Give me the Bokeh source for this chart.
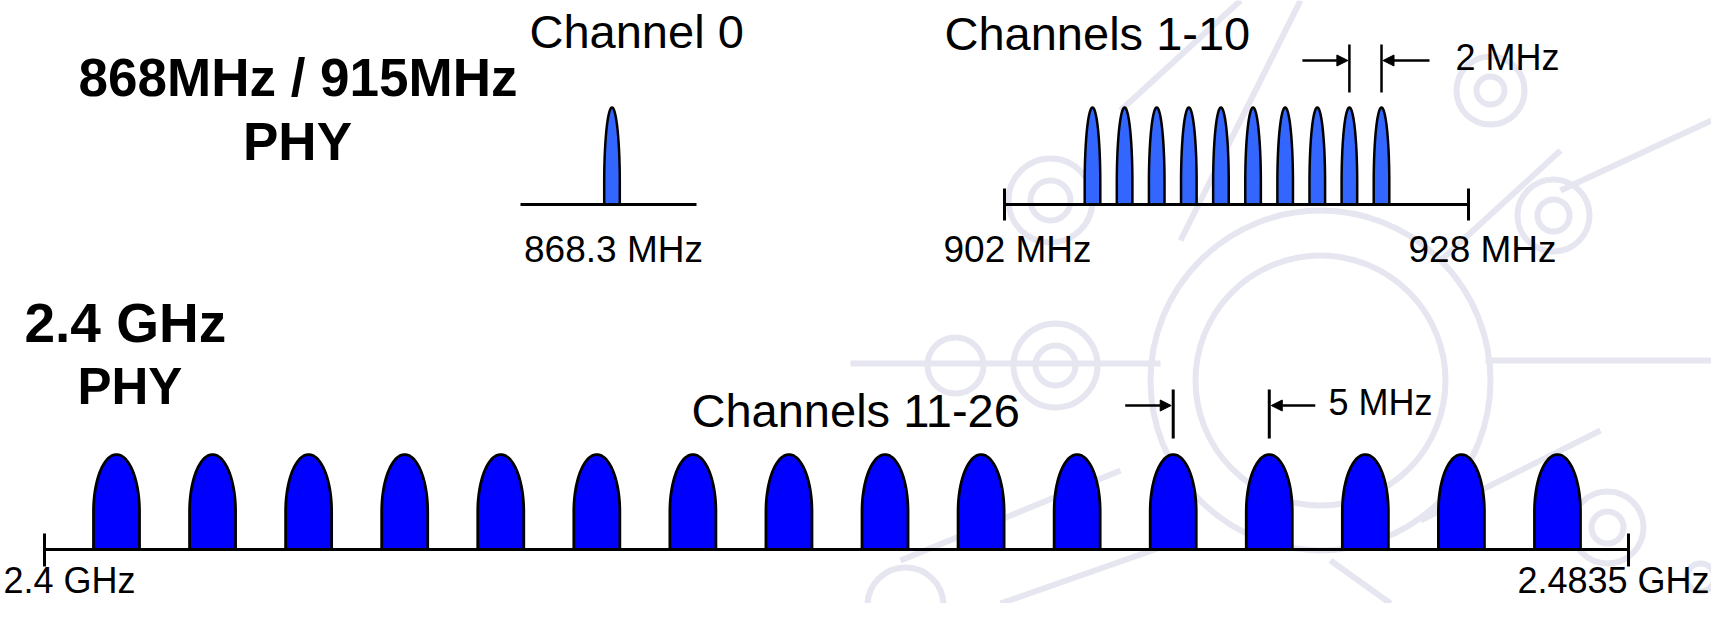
import numpy as np
from bokeh.plotting import figure
from bokeh.models import Range1d, ColumnDataSource, Arrow, NormalHead
from bokeh.core.properties import value
from bokeh.embed import file_html
from bokeh.resources import INLINE

# ---------------- data ----------------
ch0_freq_mhz = [868.3]
ch1_10_freq_mhz = [906, 908, 910, 912, 914, 916, 918, 920, 922, 924]
ch11_26_freq_mhz = [2405, 2410, 2415, 2420, 2425, 2430, 2435, 2440,
                    2445, 2450, 2455, 2460, 2465, 2470, 2475, 2480]
band_titles = ["868MHz / 915MHz", "PHY", "2.4 GHz", "PHY"]
channel_titles = ["Channel 0", "Channels 1-10", "Channels 11-26"]
edge_labels = ["868.3 MHz", "902 MHz", "928 MHz", "2.4 GHz", "2.4835 GHz"]
spacing_labels = ["2 MHz", "5 MHz"]

# ---------------- layout / style ----------------
W, H = 1711, 603
FONT = "Liberation Sans"
BLACK = "#000000"
WM = "#e6e6f1"

p = figure(width=W, height=H, output_backend="svg", toolbar_location=None,
           x_range=Range1d(0, W), y_range=Range1d(H, 0),
           x_axis_location=None, y_axis_location=None, min_border=0,
           background_fill_color="white", border_fill_color="white")
p.grid.visible = False
p.outline_line_color = None

# frequency scales for each band (schematic, px per MHz)
def band_range(f_ref, x_ref, px_per_mhz):
    a = f_ref - x_ref / px_per_mhz
    return Range1d(a, a + W / px_per_mhz)

S868, S915, S24 = 16.0, 16.056, 19.213
p.extra_x_ranges = {
    "b868": band_range(ch0_freq_mhz[0], 611.5, S868),
    "b915": band_range(ch1_10_freq_mhz[0], 1092.0, S915),
    "b24": band_range(ch11_26_freq_mhz[0], 116.0, S24),
}

# ---------------- faint background watermark ----------------
wm_lines_x = [[850, 1160], [1485, 1711], [1300, 1180], [1180, 1000], [1440, 1560],
              [1120, 900], [1420, 1600], [1560, 1711], [1240, 1120], [1330, 1390]]
wm_lines_y = [[363, 363], [360, 360], [0, 240], [540, 603], [260, 150],
              [470, 560], [520, 430], [190, 120], [0, 110], [560, 603]]
p.multi_line(xs=wm_lines_x, ys=wm_lines_y, line_color=WM, line_width=6)
wm_cx = [1320, 1320, 1055, 1055, 955, 1490, 1490, 1553, 1553, 1607, 1607, 1700, 1050, 1050, 905]
wm_cy = [380, 380, 365, 365, 365, 90, 90, 215, 215, 527, 527, 577, 200, 200, 605]
wm_r = [170, 125, 42, 20, 28, 34, 14, 36, 16, 36, 16, 14, 42, 20, 38]
p.circle(x=wm_cx, y=wm_cy, radius=wm_r, radius_units="screen",
         fill_color=None, line_color=WM, line_width=6)

# ---------------- pulses ----------------
def pulse(fc, hw, top, base, cap):
    t = np.linspace(0, np.pi, 48)
    ys_ = top + cap
    xs = [fc + hw] + list(fc + hw * np.cos(t)) + [fc - hw]
    ys = [base] + list(ys_ - cap * np.sin(t)) + [base]
    return xs, ys

def pulses(freqs, hw_px, scale, top, base, cap):
    X, Y = [], []
    for f in freqs:
        x, y = pulse(f, hw_px / scale, top, base, cap)
        X.append(x)
        Y.append(y)
    return ColumnDataSource(dict(xs=X, ys=Y))

TOP_A, BASE_A = 107, 204
TOP_B, BASE_B = 454, 549

p.patches("xs", "ys", source=pulses(ch0_freq_mhz, 7.8, S868, TOP_A, BASE_A, 75),
          x_range_name="b868", fill_color="#3366ff", line_color=BLACK, line_width=2.5)
p.patches("xs", "ys", source=pulses(ch1_10_freq_mhz, 7.8, S915, TOP_A, BASE_A, 75),
          x_range_name="b915", fill_color="#3366ff", line_color=BLACK, line_width=2.5)
p.patches("xs", "ys", source=pulses(ch11_26_freq_mhz, 23.0, S24, TOP_B, BASE_B, 57),
          x_range_name="b24", fill_color="#0000ff", line_color=BLACK, line_width=2.8)

# ---------------- baselines and end ticks ----------------
p.segment(x0=[520, 1004, 44], y0=[BASE_A, BASE_A, BASE_B],
          x1=[696, 1468, 1628], y1=[BASE_A, BASE_A, BASE_B],
          line_color=BLACK, line_width=3)
p.segment(x0=[1004, 1468, 44, 1628], y0=[188, 188, 533, 533],
          x1=[1004, 1468, 44, 1628], y1=[220, 220, 566, 566],
          line_color=BLACK, line_width=3)

# ---------------- channel spacing markers ----------------
sp915 = ch1_10_freq_mhz[-2:]
p.segment(x0=sp915, y0=[44, 44], x1=sp915, y1=[92, 92],
          x_range_name="b915", line_color=BLACK, line_width=2.5)
sp24 = ch11_26_freq_mhz[11:13]
p.segment(x0=sp24, y0=[389, 389], x1=sp24, y1=[438, 438],
          x_range_name="b24", line_color=BLACK, line_width=3)

def add_arrow(x_start, x_end, y, rng):
    p.add_layout(Arrow(end=NormalHead(size=11, fill_color=BLACK, line_color=BLACK, line_width=1),
                       x_start=x_start, y_start=y, x_end=x_end, y_end=y,
                       line_color=BLACK, line_width=2.5, x_range_name=rng))

add_arrow(sp915[0] - 47 / S915, sp915[0] - 1.5 / S915, 60, "b915")
add_arrow(sp915[1] + 48 / S915, sp915[1] + 1.5 / S915, 60, "b915")
add_arrow(sp24[0] - 48 / S24, sp24[0] - 2 / S24, 405, "b24")
add_arrow(sp24[1] + 46 / S24, sp24[1] + 2 / S24, 405, "b24")

# ---------------- texts (y = vertical centre of the capitals) ----------------
def texts(labels, xs, ys, size, align, style):
    src = ColumnDataSource(dict(x=xs, y=ys, t=labels, a=align))
    p.text(x="x", y="y", text="t", source=src, text_align="a",
           text_baseline="middle", text_font=value(FONT),
           text_font_size=value(size), text_font_style=style, text_color=BLACK)

texts(band_titles[:2], [297.5, 297], [77, 141], "53px", ["center", "center"], "bold")
texts(band_titles[2:3], [24], [322.7], "55px", ["left"], "bold")
texts(band_titles[3:], [77], [385.5], "51px", ["left"], "bold")
texts(channel_titles, [529, 944, 691], [31.4, 33, 409.7], "47px", ["left"] * 3, "normal")
texts(edge_labels[:3], [613, 1017, 1482], [249, 249, 249], "37px", ["center"] * 3, "normal")
texts(edge_labels[3:], [3, 1709], [580, 580], "36px", ["left", "right"], "normal")
texts(spacing_labels, [1455, 1328], [56.7, 401.7], "36px", ["left", "left"], "normal")

open("out.html", "w").write(file_html(p, INLINE))
